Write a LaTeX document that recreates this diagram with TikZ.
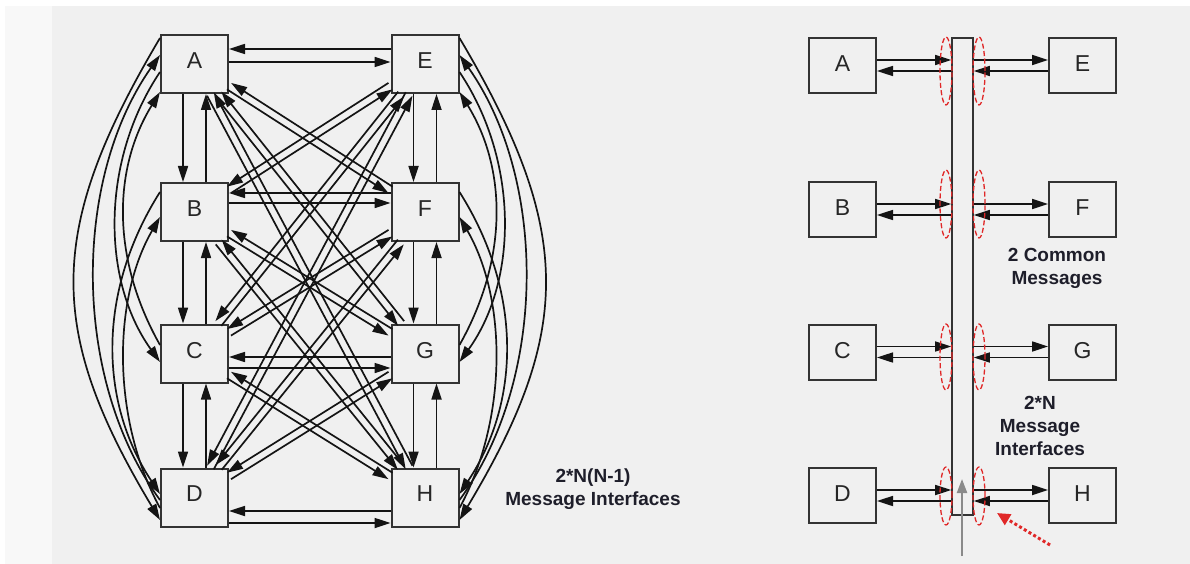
\documentclass[tikz,border=0pt]{standalone}
\usepackage{fontspec}
\setmainfont{Liberation Sans}
\usetikzlibrary{arrows.meta,calc}
\definecolor{bgout}{HTML}{F8F8F8}
\definecolor{bgin}{HTML}{F0F0F0}
\definecolor{boxline}{HTML}{333333}
\definecolor{txt}{HTML}{1E1E2A}
\definecolor{ellred}{HTML}{E02828}
\definecolor{arrgray}{HTML}{8A8A8A}
\tikzset{
 box/.style={draw=boxline, line width=2pt, fill=bgin, minimum width=67pt, minimum height=58pt, inner sep=0pt, font=\fontsize{23}{23}\selectfont, text=black!85},
 rbox/.style={box, minimum height=55pt},
 arr/.style={draw=black!92, line width=1.7pt, -{Triangle[length=16pt,width=10pt]}},
 lbl/.style={font=\bfseries\fontsize{19}{23}\selectfont, text=txt, align=center},
 ell/.style={draw=ellred, line width=1.3pt, dash pattern=on 5pt off 2.5pt},
}
\newcommand\diagpair[2]{%
  \draw[arr,transform canvas={shift={($(#1)!3.8pt!-90:(#2)-(#1)$)}}] (#1) -- (#2);
  \draw[arr,transform canvas={shift={($(#2)!3.8pt!-90:(#1)-(#2)$)}}] (#2) -- (#1);}
\begin{document}
\begin{tikzpicture}[x=1pt,y=-1pt]
\useasboundingbox (0,0) rectangle (1190,564);
\fill[white] (0,0) rectangle (1190,564);
\fill[bgout] (5,6) rectangle (1190,564);
\fill[bgin] (52,6) rectangle (1190,564);

% ---------- left diagram ----------
\node[box] (A) at (194.5,64) {\raisebox{7pt}{A}};
\node[box] (B) at (194.5,212) {\raisebox{7pt}{B}};
\node[box] (C) at (194.5,353.5) {\raisebox{7pt}{C}};
\node[box] (D) at (194.5,497.5) {\raisebox{7pt}{D}};
\node[box] (E) at (425,64) {\raisebox{7pt}{E}};
\node[box] (F) at (425,212) {\raisebox{7pt}{F}};
\node[box] (G) at (425,353.5) {\raisebox{7pt}{G}};
\node[box] (H) at (425,497.5) {\raisebox{7pt}{H}};

% horizontal pairs
\draw[arr] ($(E.west)+(0,-15)$) -- ($(A.east)+(0,-15)$);
\draw[arr] ($(A.east)+(0,-2)$) -- ($(E.west)+(0,-2)$);
\draw[arr] ($(F.west)+(0,-19)$) -- ($(B.east)+(0,-19)$);
\draw[arr] ($(B.east)+(0,-9)$) -- ($(F.west)+(0,-9)$);
\draw[arr] ($(G.west)+(0,3.5)$) -- ($(C.east)+(0,3.5)$);
\draw[arr] ($(C.east)+(0,14.5)$) -- ($(G.west)+(0,14.5)$);
\draw[arr] ($(H.west)+(0,13.5)$) -- ($(D.east)+(0,13.5)$);
\draw[arr] ($(D.east)+(0,25.5)$) -- ($(H.west)+(0,25.5)$);

% vertical pairs
\foreach \u/\v in {A/B,B/C,C/D,E/F,F/G,G/H}{
  \draw[arr] ($(\u.south)+(-11.5,0)$) -- ($(\v.north)+(-11.5,0)$);
  \draw[arr] ($(\v.north)+(11.5,0)$) -- ($(\u.south)+(11.5,0)$);
}

% diagonals
\diagpair{A}{F}\diagpair{A}{G}\diagpair{A}{H}
\diagpair{B}{E}\diagpair{B}{G}\diagpair{B}{H}
\diagpair{C}{E}\diagpair{C}{F}\diagpair{C}{H}
\diagpair{D}{E}\diagpair{D}{F}\diagpair{D}{G}

% left arcs
\draw[arr] ($(A.west)+(0,-26)$) .. controls +(-114,192) and +(-114,-190) .. ($(D.west)+(0,22.5)$);
\draw[arr] ($(D.west)+(0,2.5)$) .. controls +(-88,-120) and +(-88,125) .. ($(A.west)+(0,-9)$);
\draw[arr] ($(A.west)+(0,8)$) .. controls +(-59,88) and +(-59,-82) .. ($(C.west)+(0,8.5)$);
\draw[arr] ($(C.west)+(0,-8.5)$) .. controls +(-48,-85) and +(-48,78) .. ($(A.west)+(0,28)$);
\draw[arr] ($(B.west)+(0,-20)$) .. controls +(-62,98) and +(-62,-94) .. ($(D.west)+(0,-3.5)$);
\draw[arr] ($(D.west)+(0,10.5)$) .. controls +(-48,-88) and +(-48,83) .. ($(B.west)+(0,5)$);
% right arcs
\draw[arr] ($(E.east)+(0,-26)$) .. controls +(114,192) and +(114,-190) .. ($(H.east)+(0,22.5)$);
\draw[arr] ($(H.east)+(0,2.5)$) .. controls +(88,-120) and +(88,125) .. ($(E.east)+(0,-9)$);
\draw[arr] ($(E.east)+(0,8)$) .. controls +(59,88) and +(59,-82) .. ($(G.east)+(0,8.5)$);
\draw[arr] ($(G.east)+(0,-8.5)$) .. controls +(48,-85) and +(48,78) .. ($(E.east)+(0,28)$);
\draw[arr] ($(F.east)+(0,-20)$) .. controls +(62,98) and +(62,-94) .. ($(H.east)+(0,-3.5)$);
\draw[arr] ($(H.east)+(0,10.5)$) .. controls +(48,-88) and +(48,83) .. ($(F.east)+(0,5)$);

\node[lbl] (t1) at (593,489) {2*N(N-1)\\Message Interfaces};

% ---------- right diagram ----------
\node[draw=boxline, line width=1.6pt, fill=bgin, minimum width=21pt, minimum height=477pt, inner sep=0pt] (bar) at (962.5,276.5) {};
\node[rbox] (RA) at (842.5,65.5) {\raisebox{3pt}{A}};
\node[rbox] (RB) at (842.5,209.5) {\raisebox{3pt}{B}};
\node[rbox] (RC) at (842.5,352) {\raisebox{3pt}{C}};
\node[rbox] (RD) at (842.5,495.5) {\raisebox{3pt}{D}};
\node[rbox] (RE) at (1082.5,65.5) {\raisebox{3pt}{E}};
\node[rbox] (RF) at (1082.5,209.5) {\raisebox{3pt}{F}};
\node[rbox] (RG) at (1082.5,352) {\raisebox{3pt}{G}};
\node[rbox] (RH) at (1082.5,495.5) {\raisebox{3pt}{H}};

\foreach \l/\r in {RA/RE,RB/RF,RC/RG,RD/RH}{
  \draw[arr] ($(\l.east)+(0,-5.5)$) -- ($(\l.east -| bar.west)+(0,-5.5)$);
  \draw[arr] ($(\l.east -| bar.west)+(0,5.5)$) -- ($(\l.east)+(0,5.5)$);
  \draw[arr] ($(\r.west -| bar.east)+(0,-5.5)$) -- ($(\r.west)+(0,-5.5)$);
  \draw[arr] ($(\r.west)+(0,5.5)$) -- ($(\r.west -| bar.east)+(0,5.5)$);
}

\foreach \yy/\ry in {71/34,204/34,357/33,496/29}{
  \draw[ell] (946,\yy) ellipse [x radius=6pt, y radius=\ry pt];
  \draw[ell] (979,\yy) ellipse [x radius=6pt, y radius=\ry pt];
}

\coordinate (g0) at (962,556);
\coordinate (g1) at (962,479);
\draw[draw=arrgray, line width=2.2pt, -{Triangle[length=14pt,width=10pt]}] (g0) -- (g1);
\coordinate (r0) at (1050,545);
\coordinate (r1) at (997,513);
\draw[draw=ellred, line width=3pt, dash pattern=on 3pt off 2.5pt, -{Triangle[length=13pt,width=12pt]}] (r0) -- (r1);

\node[lbl] (t2) at (1057,268) {2 Common\\Messages};
\node[lbl] (t3) at (1040,426) {2*N\\Message\\Interfaces};
\end{tikzpicture}
\end{document}
